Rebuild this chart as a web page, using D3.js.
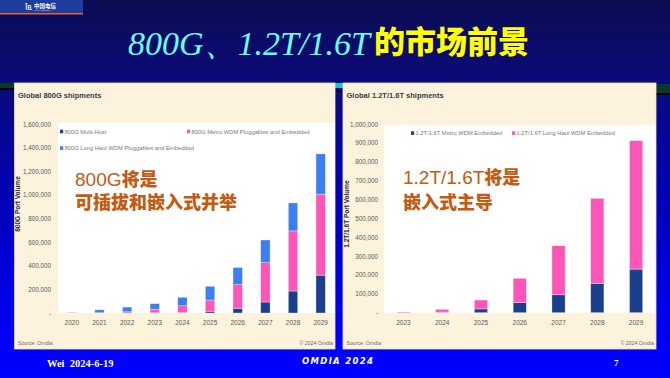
<!DOCTYPE html>
<html>
<head>
<meta charset="utf-8">
<script src="https://cdn.jsdelivr.net/npm/d3@7"></script>
<style>
  html, body { margin: 0; padding: 0; background: #0a0a6a; }
  svg { display: block; }
</style>
</head>
<body>
<script>
// ---- data ----
var years800 = ["2020", "2021", "2022", "2023", "2024", "2025", "2026", "2027", "2028", "2029"];
var multiHost800 = [0, 0, 0, 2000, 3000, 15000, 40000, 93000, 186000, 320000];
var metro800 = [1000, 2000, 10000, 30000, 58000, 95000, 200000, 333000, 509000, 686000];
var longHaul800 = [4000, 25000, 40000, 47000, 72000, 116000, 145000, 192000, 237000, 341000];
var ticks800 = [0, 200000, 400000, 600000, 800000, 1000000, 1200000, 1400000, 1600000];

var years16 = ["2023", "2024", "2025", "2026", "2027", "2028", "2029"];
var metro16 = [0, 3000, 20000, 53000, 95000, 156000, 231000];
var longHaul16 = [4000, 15000, 47000, 129000, 260000, 450000, 681000];
var ticks16 = [0, 100000, 200000, 300000, 400000, 500000, 600000, 700000, 800000, 900000, 1000000];

var legend800 = ["800G Multi-Host", "800G Metro WDM Pluggables and Embedded", "800G Long Haul WDM Pluggables and Embedded"];
var legend16 = ["1.2T/1.6T Metro WDM Embedded", "1.2T/1.6T Long Haul WDM Embedded"];

var W = 670, H = 378;
var chartFont = "'Liberation Sans Narrow', 'Liberation Sans', Arial, sans-serif";
var cjkFont = "'Noto Sans CJK SC', sans-serif";
var darkBlue = "#1b3f8b", pink = "#fd55b8", lightBlue = "#3c7ff0";

var svg = d3.select("body").append("svg").attr("width", W).attr("height", H);
var defs = svg.append("defs");
var bg = defs.append("linearGradient").attr("id", "bg").attr("x1", 0).attr("y1", 0).attr("x2", 0).attr("y2", 1);
bg.append("stop").attr("offset", "0").attr("stop-color", "#0c0c52");
bg.append("stop").attr("offset", "0.22").attr("stop-color", "#0a0a7c");
bg.append("stop").attr("offset", "0.6").attr("stop-color", "#0000c4");
bg.append("stop").attr("offset", "0.9").attr("stop-color", "#0000fa");
bg.append("stop").attr("offset", "1").attr("stop-color", "#0000ff");
svg.append("rect").attr("width", W).attr("height", H).attr("fill", "url(#bg)");

// logo block top-left
svg.append("rect").attr("x", 0).attr("y", 0).attr("width", 83).attr("height", 13).attr("fill", "#1c3c9e");
svg.append("rect").attr("x", 0).attr("y", 13).attr("width", 83).attr("height", 1.5).attr("fill", "#e8602a");
svg.append("text").attr("x", 25).attr("y", 8.5).attr("fill", "#fff")
  .style("font", "bold 7px " + cjkFont).text("\u2121");
svg.append("text").attr("x", 34).attr("y", 8.2).attr("fill", "#fff")
  .style("font", "bold 5.5px " + cjkFont).text("中国电信");
svg.append("text").attr("x", 34).attr("y", 11.3).attr("fill", "#dde")
  .style("font", "2px " + chartFont).text("CHINA TELECOM");

// title
svg.append("text").attr("x", 128).attr("y", 55).attr("fill", "#66ffff")
  .style("font", "italic 34px 'Liberation Serif', 'DejaVu Serif', serif")
  .text("800G、1.2T/1.6T");
svg.append("text").attr("x", 374).attr("y", 53).attr("fill", "#ffff00")
  .style("font", "900 31px " + cjkFont)
  .text("的市场前景");

// decorative strip behind the panels
svg.append("rect").attr("x", 0).attr("y", 83).attr("width", 15).attr("height", 5).attr("fill", "#083a2c");
svg.append("rect").attr("x", 0).attr("y", 88).attr("width", 15).attr("height", 2).attr("fill", "#000");
svg.append("rect").attr("x", 656).attr("y", 84).attr("width", 14).attr("height", 9).attr("fill", "#083a2c");
svg.append("rect").attr("x", 656).attr("y", 93).attr("width", 14).attr("height", 2).attr("fill", "#000");
svg.append("rect").attr("x", 335).attr("y", 83).attr("width", 8).attr("height", 5).attr("fill", "#12c8c8");
svg.append("rect").attr("x", 335).attr("y", 90).attr("width", 8).attr("height", 2).attr("fill", "#060640");

function drawPanel(p) {
  var g = svg.append("g");
  g.append("rect").attr("x", p.box[0]).attr("y", p.box[1])
    .attr("width", p.box[2]).attr("height", p.box[3])
    .attr("fill", "#fdf3dc").attr("stroke", "#ece4d4").attr("stroke-width", 0.8);
  g.append("rect").attr("x", p.plot[0]).attr("y", p.plot[2])
    .attr("width", p.plot[1] - p.plot[0]).attr("height", p.plot[3] - p.plot[2])
    .attr("fill", "#fff");

  g.append("text").attr("x", p.box[0] + 3.5).attr("y", 97.5).attr("fill", "#3a3a3a")
    .style("font", "bold 7.5px " + chartFont).text(p.title);

  var x = d3.scaleBand().domain(p.years).range([p.plot[0], p.plot[1]]).paddingInner(p.pad).paddingOuter(p.pad / 2);
  var y = d3.scaleLinear().domain([0, p.yMax]).range([p.plot[3], p.yTop]);

  var yAxis = g.append("g").attr("transform", "translate(" + p.plot[0] + ",0)")
    .call(d3.axisLeft(y).tickValues(p.ticks).tickSize(0).tickPadding(p.tickPad)
      .tickFormat(function (d) { return d === 0 ? "-" : d3.format(",")(d); }));
  yAxis.select(".domain").remove();
  yAxis.selectAll("text").attr("fill", "#595959").style("font", "6.3px " + chartFont);

  var xAxis = g.append("g").attr("transform", "translate(0," + p.plot[3] + ")")
    .call(d3.axisBottom(x).tickSize(0).tickPadding(7.5));
  xAxis.select(".domain").remove();
  xAxis.selectAll("text").attr("fill", "#595959").style("font", "6.5px " + chartFont);

  g.append("text").attr("transform", "translate(" + p.yTitleX + "," + p.yTitleY + ") rotate(-90)")
    .attr("text-anchor", "middle").attr("fill", "#262626")
    .style("font", "bold 6.5px " + chartFont).text(p.yTitle);

  var table = p.years.map(function (yr, i) {
    var row = { year: yr };
    p.keys.forEach(function (k, j) { row[k] = p.series[j][i]; });
    return row;
  });
  var stacked = d3.stack().keys(p.keys)(table);
  g.append("g").selectAll("g").data(stacked).join("g")
    .attr("fill", function (d, i) { return p.colors[i]; })
    .selectAll("rect").data(function (d) { return d; }).join("rect")
    .attr("x", function (d) { return x(d.data.year); })
    .attr("width", x.bandwidth())
    .attr("y", function (d) { return y(d[1]); })
    .attr("height", function (d) { return Math.max(0, y(d[0]) - y(d[1])); })
    .attr("stroke", "#fff").attr("stroke-opacity", 0.55).attr("stroke-width", 0.6);

  var lg = g.append("g");
  p.legendPos.forEach(function (pos, i) {
    lg.append("rect").attr("x", pos[0]).attr("y", pos[1] - 2).attr("width", 3.2).attr("height", 3.6).attr("fill", p.colors[i]);
    lg.append("text").attr("x", pos[0] + 4.5).attr("y", pos[1] + 1.8).attr("fill", "#7a7a7a")
      .style("font", "5.8px " + chartFont).text(p.legend[i]);
  });

  g.append("text").attr("x", p.box[0] + 3.5).attr("y", 345).attr("fill", "#6a6a6a")
    .style("font", "5.2px " + chartFont).text("Source: Omdia");
  g.append("text").attr("x", p.box[0] + p.box[2] - 2).attr("y", 345).attr("text-anchor", "end").attr("fill", "#6a6a6a")
    .style("font", "5.2px " + chartFont).text("© 2024 Omdia");

  p.overlay.forEach(function (line) {
    var t = g.append("text").attr("x", line.x).attr("y", line.y).attr("fill", "#c55a11");
    line.parts.forEach(function (part) {
      t.append("tspan")
        .style("font", part.cjk ? "900 18px " + cjkFont : "19px 'Liberation Sans', Arial, sans-serif")
        .text(part.s);
    });
  });
}

drawPanel({
  box: [14.5, 83, 320.5, 266],
  plot: [58, 334.5, 123, 313],
  yTop: 124,
  title: "Global 800G shipments",
  yTitle: "800G Port Volume",
  yTitleX: 20, yTitleY: 204,
  years: years800,
  keys: ["multi", "metro", "long"],
  series: [multiHost800, metro800, longHaul800],
  colors: [darkBlue, pink, lightBlue],
  legend: legend800,
  legendPos: [[60, 131.7], [187, 131.7], [60, 148.3]],
  yMax: 1600000, ticks: ticks800, tickPad: 7,
  pad: 0.66,
  overlay: [
    { x: 75, y: 186, parts: [{ s: "800G" }, { s: "将是", cjk: true }] },
    { x: 75, y: 208.5, parts: [{ s: "可插拔和嵌入式并举", cjk: true }] }
  ]
});

drawPanel({
  box: [343, 83, 313, 266],
  plot: [384, 655.5, 125, 312.7],
  yTop: 124,
  title: "Global 1.2T/1.6T shipments",
  yTitle: "1.2T/1.6T Port Volume",
  yTitleX: 349, yTitleY: 214,
  years: years16,
  keys: ["metro", "long"],
  series: [metro16, longHaul16],
  colors: [darkBlue, pink],
  legend: legend16,
  legendPos: [[411, 133.3], [512, 133.3]],
  yMax: 1000000, ticks: ticks16, tickPad: 6,
  pad: 0.66,
  overlay: [
    { x: 403, y: 184, parts: [{ s: "1.2T/1.6T" }, { s: "将是", cjk: true }] },
    { x: 403, y: 208.5, parts: [{ s: "嵌入式主导", cjk: true }] }
  ]
});

// footer
svg.append("text").attr("x", 47).attr("y", 367).attr("fill", "#fff")
  .style("font", "bold 10.5px 'Liberation Serif', serif").attr("xml:space", "preserve").text("Wei  2024-6-19");
svg.append("text").attr("x", 302).attr("y", 364).attr("fill", "#fff").style("letter-spacing", "1.3px")
  .style("font", "italic bold 8.5px 'DejaVu Sans', sans-serif").text("OMDIA 2024");
svg.append("text").attr("x", 614).attr("y", 366).attr("fill", "#fff")
  .style("font", "bold 9px 'Liberation Serif', serif").text("7");
</script>
</body>
</html>
